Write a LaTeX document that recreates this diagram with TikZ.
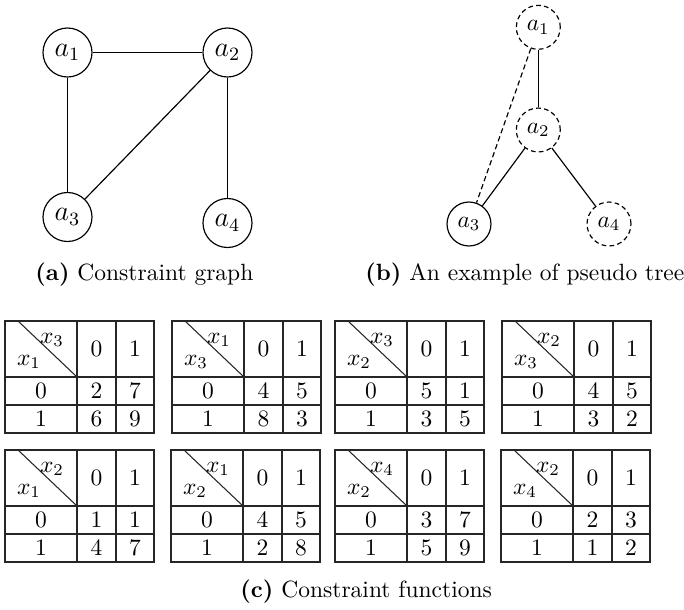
\documentclass[tikz,border=0pt]{standalone}
\usetikzlibrary{calc}
\tikzset{
  agent/.style={circle, draw, line width=0.5pt, minimum size=20.85pt, inner sep=0pt,
                font=\fontsize{12}{14}\selectfont},
  treeagent/.style={circle, draw, line width=0.5pt, minimum size=18.7pt, inner sep=0pt,
                font=\fontsize{10}{12}\selectfont},
  dashedagent/.style={treeagent, dash pattern=on 2pt off 1.4pt},
  link/.style={line width=0.5pt},
  backlink/.style={line width=0.5pt, dash pattern=on 2.2pt off 1.4pt},
  grid line/.style={line width=0.45pt, black!85},
  cell/.style={inner sep=0pt, font=\normalsize},
  caption/.style={anchor=base west, inner sep=0pt, font=\normalsize},
}
% cost table: #1 name, #2 left, #3 top, #4 column variable, #5 row variable,
% #6..#9 the costs for (0,0), (0,1), (1,0), (1,1)
\newcommand{\costtable}[9]{%
  \draw[grid line] (#2,#3) rectangle (#2+149,#3+112);
  \draw[grid line] (#2,#3+56) -- (#2+149,#3+56);
  \draw[grid line] (#2,#3+84) -- (#2+149,#3+84);
  \draw[grid line] (#2+72,#3) -- (#2+72,#3+112);
  \draw[grid line] (#2+111,#3) -- (#2+111,#3+112);
  \draw[grid line] (#2+13,#3) -- (#2+72,#3+56);
  \node[cell] (#1-col) at (#2+47,#3+19) {$x_{#4}$};
  \node[cell] (#1-row) at (#2+24,#3+41) {$x_{#5}$};
  \node[cell] (#1-h0) at (#2+91.5,#3+28) {0};
  \node[cell] (#1-h1) at (#2+130,#3+28) {1};
  \node[cell] (#1-r0) at (#2+36,#3+70) {0};
  \node[cell] (#1-r1) at (#2+36,#3+98) {1};
  \node[cell] (#1-c00) at (#2+91.5,#3+70) {#6};
  \node[cell] (#1-c01) at (#2+130,#3+70) {#7};
  \node[cell] (#1-c10) at (#2+91.5,#3+98) {#8};
  \node[cell] (#1-c11) at (#2+130,#3+98) {#9};
}
\begin{document}
\begin{tikzpicture}[x=0.4255pt, y=-0.4255pt]
\useasboundingbox (0,0) rectangle (684,610);

% (a) constraint graph
\node[agent] (ga1) at (67.5,52.5) {$a_1$};
\node[agent] (ga2) at (227.5,52.5) {$a_2$};
\node[agent] (ga3) at (67.5,217) {$a_3$};
\node[agent] (ga4) at (227.5,223) {$a_4$};
\draw[link] (ga1) -- (ga2);
\draw[link] (ga1) -- (ga3);
\draw[link] (ga2) -- (ga3);
\draw[link] (ga2) -- (ga4);
\node[caption] (capa) at (35,280) {\textbf{(a)} Constraint graph};

% (b) pseudo tree
\node[dashedagent] (ta1) at (538.3,27.3) {$a_1$};
\node[dashedagent] (ta2) at (538.3,130) {$a_2$};
\node[treeagent] (ta3) at (469,224) {$a_3$};
\node[dashedagent] (ta4) at (609,224) {$a_4$};
\draw[link] (ta1) -- (ta2);
\draw[link] (ta2) -- (ta3);
\draw[link] (ta2) -- (ta4);
\draw[backlink] (ta1) -- (ta3);
\node[caption] (capb) at (365,280) {\textbf{(b)} An example of pseudo tree};

% (c) constraint functions
\costtable{f13}{5}{321}{3}{1}{2}{7}{6}{9}
\costtable{f31}{172}{321}{1}{3}{4}{5}{8}{3}
\costtable{f23}{335}{321}{3}{2}{5}{1}{3}{5}
\costtable{f32}{502}{321}{2}{3}{4}{5}{3}{2}
\costtable{f12}{5}{450}{2}{1}{1}{1}{4}{7}
\costtable{f21}{171}{450}{1}{2}{4}{5}{2}{8}
\costtable{f24}{335}{450}{4}{2}{3}{7}{5}{9}
\costtable{f42}{501}{450}{2}{4}{2}{3}{1}{2}
\node[caption] (capc) at (240,597) {\textbf{(c)} Constraint functions};
\end{tikzpicture}
\end{document}
